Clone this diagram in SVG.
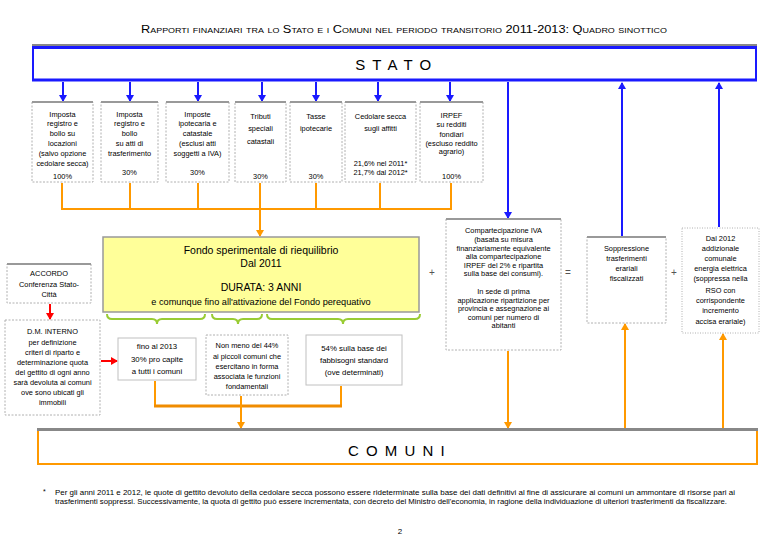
<svg xmlns="http://www.w3.org/2000/svg" width="768" height="535" viewBox="0 0 768 535">
<defs>
<marker id="ab" markerWidth="7" markerHeight="8" refX="6" refY="4" orient="auto" markerUnits="userSpaceOnUse"><path d="M0,0 L7,4 L0,8 Z" fill="#1a1aff"/></marker>
<marker id="ao" markerWidth="7" markerHeight="8" refX="6" refY="4" orient="auto" markerUnits="userSpaceOnUse"><path d="M0,0 L7,4 L0,8 Z" fill="#ff9900"/></marker>
<marker id="ar" markerWidth="7" markerHeight="8" refX="6" refY="4" orient="auto" markerUnits="userSpaceOnUse"><path d="M0,0 L7,4 L0,8 Z" fill="#ff0000"/></marker>
</defs>
<style>
.t{font-family:"Liberation Sans",Arial,sans-serif;font-size:7.4px;fill:#000;text-anchor:middle}
.bx{fill:#fff;stroke:#b0b0b0;stroke-width:1;stroke-dasharray:2,1.5}
.sb{fill:#fff;stroke:#c0c0c0;stroke-width:1}
.tp{stroke:#999;stroke-width:2}
.blA{stroke:#1a1aff;stroke-width:2;fill:none;marker-end:url(#ab)}
.or{stroke:#ff9900;stroke-width:2;fill:none}
.orA{stroke:#ff9900;stroke-width:2;fill:none;marker-end:url(#ao)}
.rdA{stroke:#ff0000;stroke-width:2;fill:none;marker-end:url(#ar)}
.br{stroke:#99cc33;stroke-width:2;fill:none}
.big{font-family:"Liberation Sans",Arial,sans-serif;font-size:15px;fill:#000;text-anchor:middle;letter-spacing:1.5px}
.op{font-family:"Liberation Sans",Arial,sans-serif;font-size:10px;fill:#555;text-anchor:middle}
.yl{font-family:"Liberation Sans",Arial,sans-serif;font-size:10.5px;fill:#000;text-anchor:middle}
</style>
<rect x="0" y="0" width="768" height="535" fill="#fff"/>

<text x="404" y="33" font-family="Liberation Sans, Arial, sans-serif" font-size="10" font-variant="small-caps" text-anchor="middle" textLength="526" lengthAdjust="spacingAndGlyphs">Rapporti finanziari tra lo Stato e i Comuni nel periodo transitorio 2011-2013: Quadro sinottico</text>

<g id="stato">
<line x1="32" y1="45" x2="757" y2="45" stroke="#888" stroke-width="2"/>
<rect x="33" y="47" width="723" height="33" fill="#fff" stroke="#1a1aff" stroke-width="2"/>
<line x1="32" y1="47.5" x2="757" y2="47.5" stroke="#1a1aff" stroke-width="3"/>
<line x1="32" y1="80" x2="757" y2="80" stroke="#1a1aff" stroke-width="3"/>
<text class="big" x="394" y="70">S T A T O</text>
</g>

<g id="connectors">
<line class="blA" x1="63" y1="82" x2="63" y2="101"/>
<line class="blA" x1="130" y1="82" x2="130" y2="101"/>
<line class="blA" x1="198" y1="82" x2="198" y2="101"/>
<line class="blA" x1="262" y1="82" x2="262" y2="101"/>
<line class="blA" x1="316" y1="82" x2="316" y2="101"/>
<line class="blA" x1="378" y1="82" x2="378" y2="101"/>
<line class="blA" x1="450" y1="82" x2="450" y2="101"/>
<line class="blA" x1="508" y1="82" x2="508" y2="218"/>
<line class="blA" x1="622" y1="236" x2="622" y2="83"/>
<line class="blA" x1="719" y1="227" x2="719" y2="83"/>

<path class="or" d="M62,183 V209 M130,183 V209 M198,183 V209 M260,183 V209 M316,183 V209 M380,183 V209 M451,183 V209 M61,209 H452"/>
<line class="orA" x1="260" y1="209" x2="260" y2="236"/>
<line class="orA" x1="508" y1="351" x2="508" y2="428"/>
<line class="orA" x1="625" y1="428" x2="625" y2="324"/>
<line class="orA" x1="723" y1="428" x2="723" y2="334"/>
<path class="or" d="M155,381 V406 M341,386 V406"/>
<line x1="154" y1="406" x2="342" y2="406" stroke="#f08c00" stroke-width="3"/>
<line class="orA" x1="241" y1="396" x2="241" y2="428"/>

<line class="rdA" x1="50" y1="304" x2="50" y2="319"/>
<line class="rdA" x1="101" y1="361" x2="117" y2="361"/>

<path class="br" d="M107,314 q0,5 5,5 H152 q5,0 5,5 q0,-5 5,-5 H200 q5,0 5,-5"/>
<path class="br" d="M212,314 q0,5 5,5 H233 q5,0 5,5 q0,-5 5,-5 H257 q5,0 5,-5"/>
<path class="br" d="M267,314 q0,5 5,5 H338 q5,0 5,5 q0,-5 5,-5 H415 q5,0 5,-5"/>

<text class="op" x="432" y="276">+</text>
<text class="op" x="568" y="276">=</text>
<text class="op" x="674" y="276">+</text>
</g>

<g id="n1">
<rect class="bx" x="32" y="102" width="61" height="80"/><line class="tp" x1="32" y1="102" x2="93" y2="102"/>
<text class="t"><tspan x="62.5" y="116.5">Imposta</tspan><tspan x="62.5" y="126">registro e</tspan><tspan x="62.5" y="135.5">bollo su</tspan><tspan x="62.5" y="145.5">locazioni</tspan><tspan x="62.5" y="155.5">(salvo opzione</tspan><tspan x="62.5" y="165.5">cedolare secca)</tspan><tspan x="62.5" y="178.5">100%</tspan></text>
</g>
<g id="n2">
<rect class="bx" x="101" y="102" width="57" height="80"/><line class="tp" x1="101" y1="102" x2="158" y2="102"/>
<text class="t"><tspan x="129.5" y="116.5">Imposta</tspan><tspan x="129.5" y="126">registro e</tspan><tspan x="129.5" y="135.5">bollo</tspan><tspan x="129.5" y="145.5">su atti di</tspan><tspan x="129.5" y="155.5">trasferimento</tspan><tspan x="129.5" y="174.5">30%</tspan></text>
</g>
<g id="n3">
<rect class="bx" x="166" y="102" width="63" height="80"/><line class="tp" x1="166" y1="102" x2="229" y2="102"/>
<text class="t"><tspan x="197.5" y="116.5">Imposte</tspan><tspan x="197.5" y="126">ipotecaria e</tspan><tspan x="197.5" y="135.5">catastale</tspan><tspan x="197.5" y="145.5">(esclusi atti</tspan><tspan x="197.5" y="155.5">soggetti a IVA)</tspan><tspan x="197.5" y="174.5">30%</tspan></text>
</g>
<g id="n4">
<rect class="bx" x="235" y="102" width="51" height="80"/><line class="tp" x1="235" y1="102" x2="286" y2="102"/>
<text class="t"><tspan x="260.5" y="118.5">Tributi</tspan><tspan x="260.5" y="131">speciali</tspan><tspan x="260.5" y="143.5">catastali</tspan><tspan x="260.5" y="178.5">30%</tspan></text>
</g>
<g id="n5">
<rect class="bx" x="290" y="102" width="52" height="80"/><line class="tp" x1="290" y1="102" x2="342" y2="102"/>
<text class="t"><tspan x="316" y="118.5">Tasse</tspan><tspan x="316" y="130.5">ipotecarie</tspan><tspan x="316" y="178.5">30%</tspan></text>
</g>
<g id="n6">
<rect class="bx" x="345" y="102" width="71" height="80"/><line class="tp" x1="345" y1="102" x2="416" y2="102"/>
<text class="t"><tspan x="380.5" y="118.5">Cedolare secca</tspan><tspan x="380.5" y="130.5">sugli affitti</tspan><tspan x="380.5" y="165.5">21,6% nel 2011*</tspan><tspan x="380.5" y="174.5">21,7% dal 2012*</tspan></text>
</g>
<g id="n7">
<rect class="bx" x="420" y="102" width="63" height="80"/><line class="tp" x1="420" y1="102" x2="483" y2="102"/>
<text class="t"><tspan x="451.5" y="117.5">IRPEF</tspan><tspan x="451.5" y="126.5">su redditi</tspan><tspan x="451.5" y="137">fondiari</tspan><tspan x="451.5" y="145.5">(escluso reddito</tspan><tspan x="451.5" y="153.5">agrario)</tspan><tspan x="451.5" y="178.5">100%</tspan></text>
</g>

<g id="fondo">
<rect x="103" y="237" width="316" height="75" fill="#ffff99" stroke="#999" stroke-width="1.5"/>
<text class="yl" x="261" y="253.5">Fondo sperimentale di riequilibrio</text>
<text class="yl" x="261" y="267">Dal 2011</text>
<text class="yl" x="261" y="291">DURATA: 3 ANNI</text>
<text class="yl" x="261" y="304.5" style="font-size:9.2px">e comunque fino all'attivazione del Fondo perequativo</text>
</g>

<g id="accordo">
<rect class="bx" x="7" y="264" width="84" height="39"/><line class="tp" x1="7" y1="264" x2="91" y2="264"/>
<text class="t"><tspan x="49" y="275.5">ACCORDO</tspan><tspan x="49" y="286.5">Conferenza Stato-</tspan><tspan x="49" y="296.5">Città</tspan></text>
</g>
<g id="dm">
<rect class="bx" x="5" y="320" width="95" height="95"/>
<text class="t"><tspan x="52.5" y="333.5">D.M. INTERNO</tspan><tspan x="52.5" y="344.5">per definizione</tspan><tspan x="52.5" y="354.5">criteri di riparto e</tspan><tspan x="52.5" y="364.5">determinazione quota</tspan><tspan x="52.5" y="374.5">del gettito di ogni anno</tspan><tspan x="52.5" y="384.5">sarà devoluta ai comuni</tspan><tspan x="52.5" y="394.5">ove sono ubicati gli</tspan><tspan x="52.5" y="404.5">immobili</tspan></text>
</g>

<g id="b1">
<rect class="sb" x="118" y="338" width="78" height="42"/>
<text class="t" style="font-size:7.8px"><tspan x="157" y="348.5">fino al 2013</tspan><tspan x="157" y="362">30% pro capite</tspan><tspan x="157" y="373.5">a tutti i comuni</tspan></text>
</g>
<g id="b2">
<rect class="bx" x="206" y="335" width="82" height="60"/>
<text class="t"><tspan x="247" y="347.5">Non meno del 44%</tspan><tspan x="247" y="358.5">ai piccoli comuni che</tspan><tspan x="247" y="368.5">esercitano in forma</tspan><tspan x="247" y="378.5">associata le funzioni</tspan><tspan x="247" y="388.5">fondamentali</tspan></text>
</g>
<g id="b3">
<rect class="sb" x="306" y="335" width="96" height="50"/>
<text class="t" style="font-size:7.8px"><tspan x="354" y="350.5">54% sulla base dei</tspan><tspan x="354" y="362.5">fabbisogni standard</tspan><tspan x="354" y="374.5">(ove determinati)</tspan></text>
</g>

<g id="iva">
<rect class="bx" x="446" y="219" width="115" height="131"/><line class="tp" x1="446" y1="219" x2="561" y2="219"/>
<text class="t"><tspan x="503.5" y="233">Compartecipazione IVA</tspan><tspan x="503.5" y="242">(basata su misura</tspan><tspan x="503.5" y="250.5">finanziariamente equivalente</tspan><tspan x="503.5" y="259">alla compartecipazione</tspan><tspan x="503.5" y="267.5">IRPEF del 2% e ripartita</tspan><tspan x="503.5" y="276">sulla base dei consumi).</tspan><tspan x="503.5" y="294">In sede di prima</tspan><tspan x="503.5" y="302.5">applicazione ripartizione per</tspan><tspan x="503.5" y="311">provincia e assegnazione ai</tspan><tspan x="503.5" y="319.5">comuni per numero di</tspan><tspan x="503.5" y="328">abitanti</tspan></text>
</g>
<g id="soppressione">
<rect class="bx" x="587" y="237" width="79" height="86"/><line class="tp" x1="587" y1="237" x2="666" y2="237"/>
<text class="t"><tspan x="626.5" y="250.5">Soppressione</tspan><tspan x="626.5" y="260.5">trasferimenti</tspan><tspan x="626.5" y="270.5">erariali</tspan><tspan x="626.5" y="280.5">fiscalizzati</tspan></text>
</g>
<g id="addizionale">
<rect class="bx" x="682" y="228" width="77" height="105" style="stroke-dasharray:1,1.5"/>
<text class="t"><tspan x="720.5" y="240.5">Dal 2012</tspan><tspan x="720.5" y="250.5">addizionale</tspan><tspan x="720.5" y="260.5">comunale</tspan><tspan x="720.5" y="270.5">energia elettrica</tspan><tspan x="720.5" y="280.5">(soppressa nella</tspan><tspan x="720.5" y="292.5">RSO con</tspan><tspan x="720.5" y="302.5">corrispondente</tspan><tspan x="720.5" y="312.5">incremento</tspan><tspan x="720.5" y="323.5">accisa erariale)</tspan></text>
</g>

<g id="comuni">
<rect x="38" y="430" width="719" height="34" fill="#fff" stroke="#ff9900" stroke-width="2"/>
<line x1="37" y1="429.5" x2="758" y2="429.5" stroke="#888" stroke-width="3"/>
<text class="big" x="397" y="456">C O M U N I</text>
</g>

<g id="footnote">
<text x="43" y="494" font-family="Liberation Sans, Arial, sans-serif" font-size="7">*</text>
<text x="55" y="494.5" font-family="Liberation Sans, Arial, sans-serif" font-size="7" textLength="680" lengthAdjust="spacingAndGlyphs">Per gli anni 2011 e 2012, le quote di gettito devoluto della cedolare secca possono essere rideterminate sulla base dei dati definitivi al fine di assicurare ai comuni un ammontare di risorse pari ai</text>
<text x="55" y="503.5" font-family="Liberation Sans, Arial, sans-serif" font-size="7" textLength="672" lengthAdjust="spacingAndGlyphs">trasferimenti soppressi. Successivamente, la quota di gettito può essere incrementata, con decreto del Ministro dell'economia, in ragione della individuazione di ulteriori trasferimenti da fiscalizzare.</text>
<text x="400" y="534" font-family="Liberation Sans, Arial, sans-serif" font-size="8" text-anchor="middle">2</text>
</g>
</svg>
